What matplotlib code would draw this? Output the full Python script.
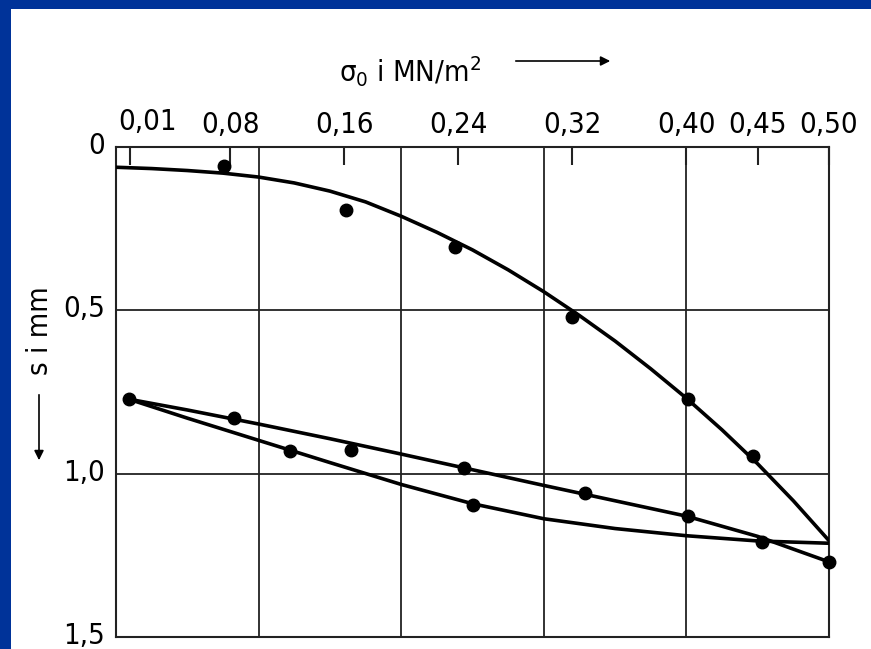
import matplotlib.pyplot as plt
import matplotlib.transforms as mtransforms
from matplotlib.patches import Rectangle, FancyArrowPatch

# fitted curves
fit_top_x = [0.0, 0.025, 0.05, 0.075, 0.10, 0.125, 0.15, 0.175, 0.20, 0.225, 0.25, 0.275,
             0.30, 0.325, 0.35, 0.375, 0.40, 0.425, 0.45, 0.475, 0.50]
fit_top_y = [0.062, 0.066, 0.072, 0.080, 0.092, 0.110, 0.135, 0.168, 0.212, 0.261, 0.315, 0.376,
             0.443, 0.516, 0.594, 0.679, 0.769, 0.866, 0.970, 1.083, 1.205]
fit_mid_x = [0.009, 0.05, 0.10, 0.15, 0.20, 0.25, 0.30, 0.35, 0.40, 0.45, 0.50]
fit_mid_y = [0.772, 0.805, 0.848, 0.893, 0.94, 0.988, 1.036, 1.083, 1.13, 1.192, 1.27]
fit_low_x = [0.009, 0.05, 0.10, 0.15, 0.20, 0.25, 0.30, 0.35, 0.40, 0.45, 0.50]
fit_low_y = [0.772, 0.83, 0.898, 0.966, 1.033, 1.092, 1.138, 1.168, 1.19, 1.206, 1.213]

# measured points
top_x = [0.076, 0.161, 0.238, 0.32, 0.401, 0.447]
top_y = [0.058, 0.193, 0.307, 0.521, 0.772, 0.946]
mid_x = [0.009, 0.083, 0.165, 0.244, 0.329, 0.401, 0.50]
mid_y = [0.772, 0.83, 0.927, 0.983, 1.058, 1.13, 1.27]
low_x = [0.122, 0.25, 0.453]
low_y = [0.932, 1.096, 1.21]

xticks = [0.01, 0.08, 0.16, 0.24, 0.32, 0.40, 0.45, 0.50]
xlabels = ['0,01', '0,08', '0,16', '0,24', '0,32', '0,40', '0,45', '0,50']
yticks = [0, 0.5, 1.0, 1.5]
ylabels = ['0', '0,5', '1,0', '1,5']

plt.rcParams['font.family'] = ['DejaVu Sans']
plt.rcParams['font.stretch'] = 'condensed'
plt.rcParams['mathtext.default'] = 'regular'

W, H = 871, 649
fig = plt.figure(figsize=(8.71, 6.49), dpi=100, facecolor='#003399')
# white sheet
fig.add_artist(Rectangle((11 / W, 0), 1, 1 - 9 / H, transform=fig.transFigure,
                         facecolor='white', edgecolor='none', zorder=0))

ax = fig.add_axes([116 / W, 1 - 637 / H, (829 - 116) / W, (637 - 147) / H])
ax.set_xlim(0, 0.5)
ax.set_ylim(1.5, 0)
ax.set_facecolor('white')

for g in [0.1, 0.2, 0.3, 0.4]:
    ax.axvline(g, color='#222222', lw=1.3, zorder=1)
for g in [0.5, 1.0]:
    ax.axhline(g, color='#222222', lw=1.3, zorder=1)

for s in ax.spines.values():
    s.set_linewidth(1.5)
    s.set_color('#222222')

ax.plot(fit_top_x, fit_top_y, color='black', lw=2.6, zorder=3)
ax.plot(fit_mid_x, fit_mid_y, color='black', lw=2.6, zorder=3)
ax.plot(fit_low_x, fit_low_y, color='black', lw=2.6, zorder=3)
for xs, ys in [(top_x, top_y), (mid_x, mid_y), (low_x, low_y)]:
    ax.plot(xs, ys, 'o', color='black', ms=9, clip_on=False, zorder=4)

ax.xaxis.tick_top()
ax.set_xticks(xticks)
ax.set_xticklabels(xlabels, fontsize=21)
ax.tick_params(axis='x', direction='in', length=13, width=1.5, pad=6, color='#222222')
ax.set_yticks(yticks)
ax.set_yticklabels(ylabels, fontsize=21)
ax.tick_params(axis='y', length=0, pad=8)

# first x label sits right of the tick, y labels a little raised
lab0 = ax.get_xticklabels()[0]
lab0.set_transform(lab0.get_transform() + mtransforms.ScaledTranslation(0.17, 0.03, fig.dpi_scale_trans))
for lab in ax.get_yticklabels():
    lab.set_transform(lab.get_transform() + mtransforms.ScaledTranslation(0, 0.04, fig.dpi_scale_trans))

fig.text(339 / W, 1 - 72 / H, r'σ$_0$ i MN/m$^2$', fontsize=21, va='center', ha='left')
fig.add_artist(FancyArrowPatch((513 / W, 1 - 61 / H), (613 / W, 1 - 61 / H),
                               transform=fig.transFigure, arrowstyle='-|>',
                               mutation_scale=14, lw=1.2, color='black'))

fig.text(40 / W, 1 - 331 / H, 's i mm', fontsize=21, rotation=90, va='center', ha='center')
fig.add_artist(FancyArrowPatch((39 / W, 1 - 392 / H), (39 / W, 1 - 463 / H),
                               transform=fig.transFigure, arrowstyle='-|>',
                               mutation_scale=14, lw=1.2, color='black'))

fig.savefig('out.png', dpi=100, facecolor=fig.get_facecolor())
